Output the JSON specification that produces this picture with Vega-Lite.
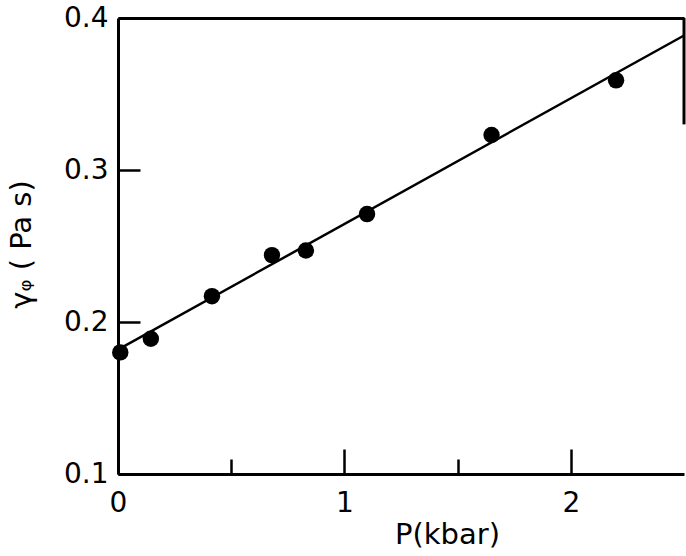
{
  "$schema": "https://vega.github.io/schema/vega-lite/v6.json",
  "autosize": "none",
  "padding": {"left": 118, "top": 18, "right": 2, "bottom": 82},
  "width": 566,
  "height": 456,
  "background": "white",
  "config": {
    "view": {"stroke": null},
    "font": "DejaVu Sans",
    "axis": {"grid": false, "domainColor": "black", "tickColor": "black", "labelColor": "black", "titleColor": "black", "labelFont": "DejaVu Sans", "titleFont": "DejaVu Sans", "titleFontWeight": "normal"}
  },
  "datasets": {
    "points": [
      {"P": 0.01, "eta": 0.180},
      {"P": 0.145, "eta": 0.189},
      {"P": 0.415, "eta": 0.217},
      {"P": 0.68, "eta": 0.244},
      {"P": 0.83, "eta": 0.247},
      {"P": 1.10, "eta": 0.271},
      {"P": 1.65, "eta": 0.323},
      {"P": 2.20, "eta": 0.359}
    ],
    "fit": [
      {"P": 0.0, "eta": 0.1818},
      {"P": 2.5, "eta": 0.3885}
    ],
    "edge": [
      {"P": 2.5, "eta": 0.4, "eta2": 0.33}
    ]
  },
  "resolve": {"axis": {"x": "independent"}},
  "layer": [
    {
      "data": {"name": "points"},
      "mark": {"type": "point", "filled": true, "shape": "circle", "color": "black", "opacity": 1, "size": 270},
      "encoding": {
        "x": {"field": "P", "type": "quantitative", "scale": {"domain": [0, 2.5], "nice": false, "zero": false},
          "axis": {"orient": "bottom", "values": [0, 1, 2], "format": "d", "tickSize": -25, "tickWidth": 2.5, "domainWidth": 3, "labelFontSize": 28, "labelPadding": 40, "labelFlush": false, "title": "P(kbar)", "titleFontSize": 29, "titleX": 329, "titleY": 46, "titleBaseline": "top"}},
        "y": {"field": "eta", "type": "quantitative", "scale": {"domain": [0.1, 0.4], "nice": false, "zero": false},
          "axis": {"orient": "left", "values": [0.1, 0.2, 0.3, 0.4], "format": ".1f", "tickSize": -22, "tickWidth": 2.5, "domainWidth": 3, "labelFontSize": 28, "labelPadding": 32, "labelFlush": false, "title": "γᵩ ( Pa s)", "titleFontSize": 29, "titleAngle": -90, "titleX": -97, "titleY": 226, "titleBaseline": "middle", "titleAlign": "center"}}
      }
    },
    {
      "data": {"name": "fit"},
      "mark": {"type": "line", "color": "black", "strokeWidth": 2.5},
      "encoding": {
        "x": {"field": "P", "type": "quantitative",
          "axis": {"orient": "bottom", "values": [0.5, 1.5], "tickSize": -15, "tickWidth": 2.5, "domain": false, "labels": false, "title": null}},
        "y": {"field": "eta", "type": "quantitative"}
      }
    },
    {
      "data": {"name": "edge"},
      "mark": {"type": "rule", "color": "black", "strokeWidth": 3},
      "encoding": {
        "x": {"field": "P", "type": "quantitative",
          "axis": {"orient": "top", "ticks": false, "labels": false, "domainWidth": 3, "title": null}},
        "y": {"field": "eta", "type": "quantitative"},
        "y2": {"field": "eta2"}
      }
    }
  ]
}
